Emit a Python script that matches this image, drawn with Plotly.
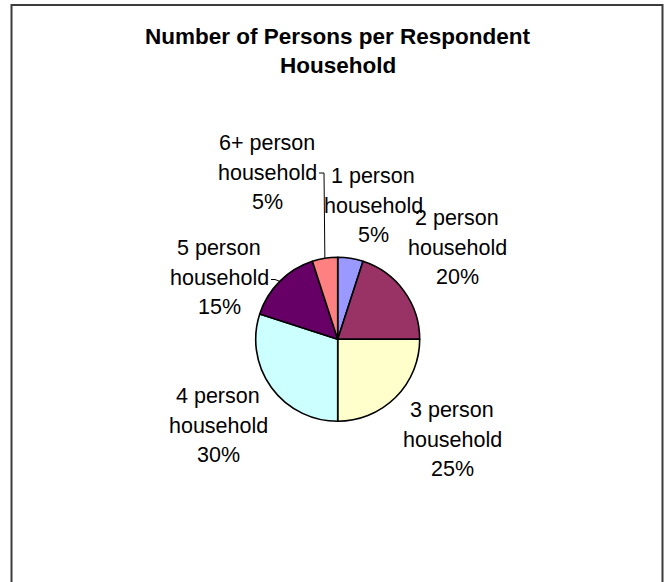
import math
import plotly.graph_objects as go

# Household size distribution of survey respondents
categories = ["1 person household", "2 person household", "3 person household",
              "4 person household", "5 person household", "6+ person household"]
shares = [5, 20, 25, 30, 15, 5]
slice_colors = ["#9999FF", "#993366", "#FFFFCC", "#CCFFFF", "#660066", "#FF8080"]
title_lines = ["Number of Persons per Respondent", "Household"]

W, H = 665, 582
CX, CY, R = 337.7, 339.3, 82.0          # pie centre / radius in pixels
FONT = "Liberation Sans, Arial, sans-serif"

# centre of each label's first line (pixels from top-left)
label_pos = {
    "1 person household": (373, 176),
    "2 person household": (457, 218),
    "3 person household": (452, 410),
    "4 person household": (218, 396),
    "5 person household": (219, 248),
    "6+ person household": (267, 143),
}
LINE_GAP = 29.5


def px(x):
    return x / W


def py(y):
    return 1 - y / H


fig = go.Figure(go.Pie(
    labels=categories,
    values=shares,
    sort=False,
    direction="clockwise",
    rotation=0,
    textinfo="none",
    hoverinfo="skip",
    showlegend=False,
    marker=dict(colors=slice_colors, line=dict(color="#000000", width=1.6)),
    domain=dict(x=[px(CX - R), px(CX + R)], y=[py(CY + R), py(CY - R)]),
))

annotations = []
for i, line in enumerate(title_lines):
    annotations.append(dict(
        x=px(337.5), y=py(36.7 + 29 * i), xref="paper", yref="paper",
        text=f"<b>{line}</b>", showarrow=False, xanchor="center", yanchor="middle",
        font=dict(family=FONT, size=22.5, color="#000000"),
    ))

total = sum(shares)
for cat, val in zip(categories, shares):
    words = cat.split(" ")
    lines = [" ".join(words[:2]), words[2], f"{round(100 * val / total)}%"]
    lx, ly = label_pos[cat]
    for k, t in enumerate(lines):
        annotations.append(dict(
            x=px(lx), y=py(ly + LINE_GAP * k), xref="paper", yref="paper",
            text=t, showarrow=False, xanchor="center", yanchor="middle",
            font=dict(family=FONT, size=21.5, color="#000000"),
        ))

# leader lines from the "household" line to the slice mid-point on the rim
shapes = []
cum = 0
mids = {}
for cat, val in zip(categories, shares):
    mids[cat] = (cum + val / 2) / total * 2 * math.pi
    cum += val


def rim(cat):
    a = mids[cat]
    return CX + R * math.sin(a), CY - R * math.cos(a)


# 6+ person: short horizontal tick then down to the rim
rx, ry = rim("6+ person household")
shapes += [
    dict(type="line", xref="paper", yref="paper", x0=px(319), y0=py(173), x1=px(324), y1=py(173),
         line=dict(color="#000000", width=1)),
    dict(type="line", xref="paper", yref="paper", x0=px(324), y0=py(173), x1=px(rx), y1=py(ry),
         line=dict(color="#000000", width=1)),
]
# 5 person: short tick into the rim
rx, ry = rim("5 person household")
shapes += [
    dict(type="line", xref="paper", yref="paper", x0=px(271), y0=py(279.5), x1=px(275), y1=py(279.5),
         line=dict(color="#000000", width=1)),
    dict(type="line", xref="paper", yref="paper", x0=px(275), y0=py(279.5), x1=px(rx), y1=py(ry),
         line=dict(color="#000000", width=1)),
]

# chart-area border (runs off the bottom of the page)
shapes.append(dict(type="rect", xref="paper", yref="paper",
                   x0=px(11.5), x1=px(662.5), y0=py(5), y1=py(H + 20),
                   line=dict(color="#3c3c3c", width=2), fillcolor="rgba(0,0,0,0)", layer="below"))

fig.update_layout(
    width=W, height=H,
    margin=dict(l=0, r=0, t=0, b=0),
    paper_bgcolor="#FFFFFF",
    plot_bgcolor="#FFFFFF",
    annotations=annotations,
    shapes=shapes,
    showlegend=False,
)

fig.write_html("out.html", config={"displayModeBar": False})
